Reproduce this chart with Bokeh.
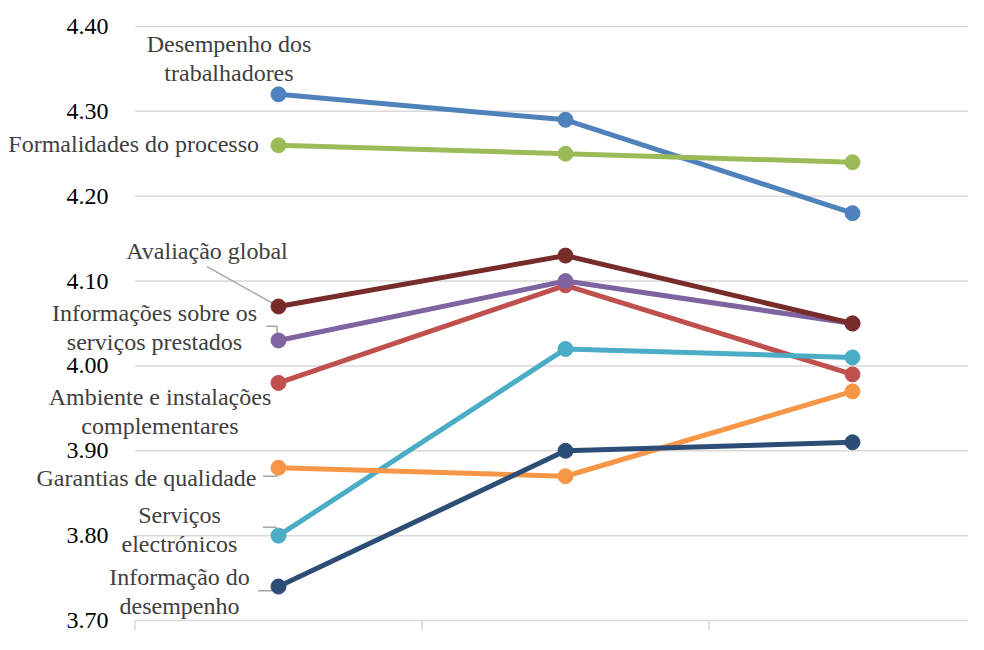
from bokeh.plotting import figure
from bokeh.models import Range1d
from bokeh.embed import file_html
from bokeh.resources import INLINE
from bokeh.core.properties import value

# ---- data ----
categories = ["1", "2", "3"]
series_names = [
    "Desempenho dos\ntrabalhadores",
    "Formalidades do processo",
    "Ambiente e instalações\ncomplementares",
    "Informações sobre os\nserviços prestados",
    "Avaliação global",
    "Serviços\nelectrónicos",
    "Garantias de qualidade",
    "Informação do\ndesempenho",
]
desempenho_trabalhadores = [4.32, 4.29, 4.18]
formalidades_processo = [4.26, 4.25, 4.24]
ambiente_instalacoes = [3.98, 4.095, 3.99]
informacoes_servicos = [4.03, 4.10, 4.05]
avaliacao_global = [4.07, 4.13, 4.05]
servicos_electronicos = [3.80, 4.02, 4.01]
garantias_qualidade = [3.88, 3.87, 3.97]
informacao_desempenho = [3.74, 3.90, 3.91]
y_ticks = [3.70, 3.80, 3.90, 4.00, 4.10, 4.20, 4.30, 4.40]
y_tick_labels = ["3.70", "3.80", "3.90", "4.00", "4.10", "4.20", "4.30", "4.40"]

series_values = [
    desempenho_trabalhadores,
    formalidades_processo,
    ambiente_instalacoes,
    informacoes_servicos,
    avaliacao_global,
    servicos_electronicos,
    garantias_qualidade,
    informacao_desempenho,
]
colors = ["#4F81BD", "#9BBB59", "#C0504D", "#8064A2", "#772C2A",
          "#4BACC6", "#F79646", "#2C4D75"]

# label layout (data units): x, y, align
label_layout = [
    (0.3275, 4.3621, "center"),
    (0.432, 4.2613, "right"),
    (0.087, 3.9464, "center"),
    (0.068, 4.0455, "center"),
    (0.251, 4.1350, "center"),
    (0.155, 3.8071, "center"),
    (0.040, 3.8677, "center"),
    (0.155, 3.7341, "center"),
]
# leader lines (data units)
leaders = [
    ([0.2509, 0.4913], [4.1169, 4.0716]),
    ([0.4564, 0.4948, 0.4948], [4.0467, 4.0467, 4.0342]),
    ([0.446, 0.4948, 0.4948], [3.8700, 3.8700, 3.8779]),
    ([0.446, 0.4913, 0.4913], [3.8100, 3.8100, 3.7998]),
    ([0.4286, 0.4774, 0.4983], [3.7351, 3.7351, 3.7419]),
]

FONT = "Liberation Serif"

xs = [i + 0.5 for i in range(len(categories))]
n = len(categories)

p = figure(width=968, height=634, output_backend="svg", toolbar_location=None,
           x_range=Range1d(-134.5 / 287, (968 - 134.5) / 287),
           y_range=Range1d(3.6835, 4.4306),
           min_border_left=0, min_border_right=0, min_border_top=0,
           min_border_bottom=0)
p.outline_line_color = None
p.axis.visible = False
p.grid.grid_line_color = None

# gridlines
p.segment(x0=[0] * len(y_ticks), x1=[n] * len(y_ticks), y0=y_ticks, y1=y_ticks,
          line_color="#D9D9D9", line_width=1.5)
# category boundary ticks under the base line
p.segment(x0=list(range(n + 1)), x1=list(range(n + 1)),
          y0=[y_ticks[0]] * (n + 1), y1=[y_ticks[0] - 0.012] * (n + 1),
          line_color="#D9D9D9", line_width=1.5)
# y tick labels
p.text(x=[-0.0923] * len(y_ticks), y=y_ticks, text=y_tick_labels,
       text_align="right", text_baseline="middle", text_font=value(FONT),
       text_font_size="24px", text_color="#000000")

for lx, ly in leaders:
    p.line(lx, ly, line_color="#A6A6A6", line_width=1.5)

for vals, col in zip(series_values, colors):
    p.line(xs, vals, line_color=col, line_width=5)
    p.scatter(xs, vals, size=15, fill_color=col, line_color=col)

for name, (lx, ly, al) in zip(series_names, label_layout):
    p.text(x=[lx], y=[ly], text=[name], text_align=al,
           text_baseline="middle", text_font=value(FONT),
           text_font_size="24px", text_color="#404040",
           text_line_height=1.1)

open("out.html", "w").write(file_html(p, INLINE))
